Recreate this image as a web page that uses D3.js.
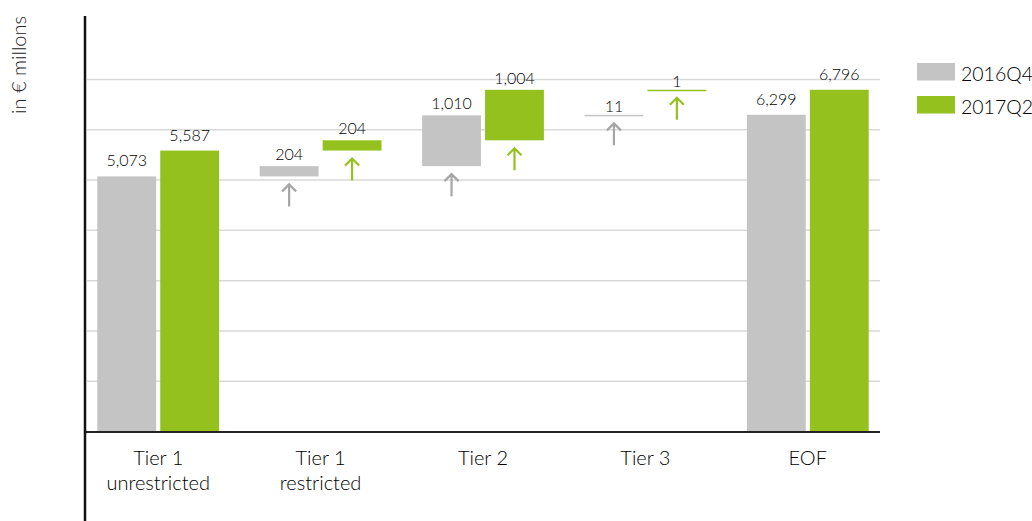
<!DOCTYPE html>
<html>
<head>
<meta charset="utf-8">
<script src="https://cdn.jsdelivr.net/npm/d3@7"></script>
<style>
  body { margin: 0; background: #fff; }
  text { font-family: Lato, "Open Sans", sans-serif; font-weight: 300; fill: #000; }
</style>
</head>
<body>
<svg id="svg"></svg>
<script>

// chart data
let categories = [["Tier 1", "unrestricted"], ["Tier 1", "restricted"], ["Tier 2"], ["Tier 3"], ["EOF"]];
let kinds = ["total", "delta", "delta", "delta", "total"];
let seriesNames = ["2016Q4", "2017Q2"];
let values2016Q4 = [5073, 204, 1010, 11, 6299];
let values2017Q2 = [5587, 204, 1004, 1, 6796];
let gridTicks = [1000, 2000, 3000, 4000, 5000, 6000, 7000];

const width = 1032;
const height = 521;
const colours = { "2016Q4": "#c4c4c4", "2017Q2": "#95c11f" };
const arrowColours = { "2016Q4": "#a6a6a6", "2017Q2": "#95c11f" };

let svg = d3.select("#svg").attr("width", width).attr("height", height);

// build waterfall rows (start / end of each bar)
function buildRows(name, values) {
    let running = 0;
    return values.map((v, i) => {
        let start = kinds[i] == "total" ? 0 : running;
        let end = start + v;
        running = kinds[i] == "total" ? v : end;
        return { series: name, cat: i, value: v, start: start, end: end, kind: kinds[i] };
    });
}
let rows = buildRows("2016Q4", values2016Q4).concat(buildRows("2017Q2", values2017Q2));

let xScale = d3.scaleBand()
    .domain(d3.range(categories.length))
    .range([77, 889])
    .paddingInner(0.25)
    .paddingOuter(0.125);

let xInner = d3.scaleBand()
    .domain(seriesNames)
    .range([0, xScale.bandwidth()])
    .paddingInner(0.065);

let yScale = d3.scaleLinear()
    .domain([0, 7000])
    .range([431.5, 79.5]);

// gridlines
svg.append("g")
    .selectAll("line")
    .data(gridTicks)
    .join("line")
    .attr("x1", 87).attr("x2", 880)
    .attr("y1", d => yScale(d)).attr("y2", d => yScale(d))
    .attr("stroke", "#d9d9d9")
    .attr("stroke-width", 1.5);

// bars
let bars = svg.append("g");
bars.selectAll("rect")
    .data(rows)
    .join("rect")
    .attr("x", d => xScale(d.cat) + xInner(d.series))
    .attr("width", xInner.bandwidth())
    .attr("y", d => yScale(d.end))
    .attr("height", d => Math.max(yScale(d.start) - yScale(d.end), 1.5))
    .attr("fill", d => colours[d.series]);

// value labels
svg.append("g")
    .selectAll("text")
    .data(rows)
    .join("text")
    .attr("x", d => xScale(d.cat) + xInner(d.series) + xInner.bandwidth() / 2)
    .attr("y", d => {
        let h = yScale(d.start) - yScale(d.end);
        let gap = h > 100 ? 10 : (h > 5 ? 6 : 3);
        return yScale(d.end) - gap;
    })
    .attr("text-anchor", "middle")
    .style("font-size", "16px")
    .text(d => d3.format(",")(d.value));

// arrows under the delta bars
svg.append("g")
    .selectAll("path")
    .data(rows.filter(d => d.kind == "delta"))
    .join("path")
    .attr("fill", "none")
    .attr("stroke", d => arrowColours[d.series])
    .attr("stroke-width", 2.2)
    .attr("d", d => {
        let cx = xScale(d.cat) + xInner(d.series) + xInner.bandwidth() / 2;
        let top = yScale(d.start) + 8;
        let bottom = top + 22;
        return `M${cx},${bottom} L${cx},${top} M${cx - 7},${top + 7} L${cx},${top} L${cx + 7},${top + 7}`;
    });

// baseline
svg.append("line")
    .attr("x1", 84).attr("x2", 880)
    .attr("y1", 432).attr("y2", 432)
    .attr("stroke", "#222")
    .attr("stroke-width", 2);

// vertical axis line
svg.append("line")
    .attr("x1", 85).attr("x2", 85)
    .attr("y1", 16).attr("y2", height)
    .attr("stroke", "#111")
    .attr("stroke-width", 2.5);

// category labels
let catLabels = svg.append("g")
    .selectAll("text")
    .data(categories)
    .join("text")
    .attr("x", (d, i) => xScale(i) + xScale.bandwidth() / 2)
    .attr("y", 465)
    .attr("text-anchor", "middle")
    .style("font-size", "20px");

catLabels.selectAll("tspan")
    .data(d => d)
    .join("tspan")
    .attr("x", function () { return d3.select(this.parentNode).attr("x"); })
    .attr("dy", (d, i) => i == 0 ? 0 : 25)
    .text(d => d);

// y axis title
svg.append("text")
    .attr("transform", "translate(26,65) rotate(-90)")
    .attr("text-anchor", "middle")
    .style("font-size", "20px")
    .style("fill", "#222")
    .text("in € millons");

// legend
let legend = svg.append("g")
    .selectAll("g")
    .data(seriesNames)
    .join("g")
    .attr("transform", (d, i) => `translate(917,${63 + i * 33})`);

legend.append("rect")
    .attr("width", 38)
    .attr("height", 17.5)
    .attr("fill", d => colours[d]);

legend.append("text")
    .attr("x", 44)
    .attr("y", 17.5)
    .style("font-size", "19.5px")
    .text(d => d);

</script>
</body>
</html>
